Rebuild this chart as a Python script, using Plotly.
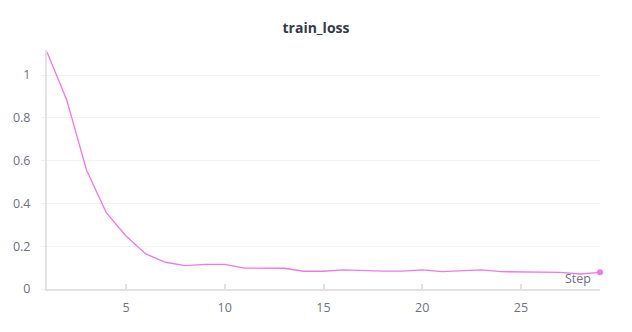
import plotly.graph_objects as go

steps = list(range(1, 30))
train_loss = [1.108, 0.883, 0.556, 0.357, 0.248, 0.164, 0.125, 0.109, 0.115, 0.115,
              0.098, 0.098, 0.097, 0.083, 0.083, 0.089, 0.086, 0.084, 0.084, 0.089,
              0.081, 0.084, 0.089, 0.081, 0.081, 0.081, 0.078, 0.070, 0.078]
x_ticks = [5, 10, 15, 20, 25]
y_ticks = [0, 0.2, 0.4, 0.6, 0.8, 1]
y_tick_text = ["0", "0.2", "0.4", "0.6", "0.8", "1"]

line_color = "#f277e4"
font_family = "Open Sans, Noto Sans, sans-serif"
tick_color = "#6e717f"

fig = go.Figure()
fig.add_trace(go.Scatter(
    x=steps, y=train_loss, mode="lines",
    line=dict(color=line_color, width=1.3),
    showlegend=False, hoverinfo="x+y",
))
# highlight the most recent point
fig.add_trace(go.Scatter(
    x=[steps[-1]], y=[train_loss[-1]], mode="markers",
    marker=dict(color=line_color, size=6),
    showlegend=False, cliponaxis=False,
))

fig.update_layout(
    width=632, height=332,
    margin=dict(l=47, r=32, t=50, b=43),
    paper_bgcolor="white", plot_bgcolor="white",
    font=dict(family=font_family, size=12, color=tick_color),
    title=dict(text="<b>train_loss</b>", x=0.5, xanchor="center", y=0.915, yanchor="middle",
               font=dict(size=14, color="#363a45")),
    xaxis=dict(
        range=[1, 29], tickvals=x_ticks, showgrid=False, zeroline=False,
        showline=True, linecolor="#e2e2e5", linewidth=2,
        ticks="inside", ticklen=5, tickcolor="#e2e2e5", tickwidth=1.5,
        tickfont=dict(size=12.5, color=tick_color), ticklabelstandoff=6,
    ),
    yaxis=dict(
        range=[0, 1.117], tickvals=y_ticks, ticktext=y_tick_text,
        showgrid=True, gridcolor="#f2f2f4", gridwidth=1, zeroline=False,
        showline=True, linecolor="#e2e2e5", linewidth=2,
        ticks="outside", ticklen=4, tickcolor="#f0f0f2",
        tickfont=dict(size=12.5, color=tick_color), ticklabelstandoff=8,
    ),
    annotations=[dict(
        text="Step", xref="paper", yref="paper", x=0.988, y=0.045,
        xanchor="right", yanchor="middle", showarrow=False,
        font=dict(size=12.5, color=tick_color),
    )],
)

fig.write_html("out.html")
